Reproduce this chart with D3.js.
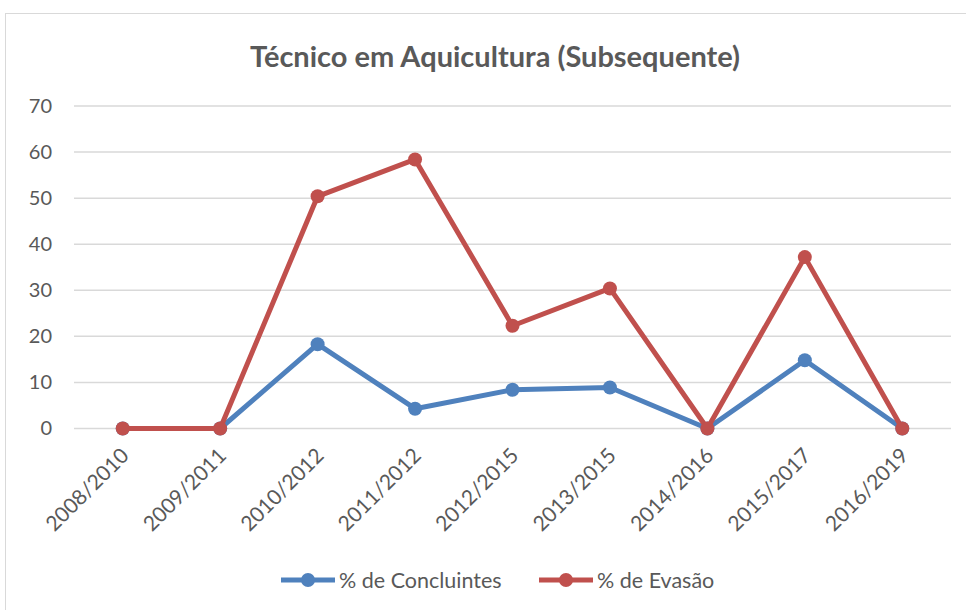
<!DOCTYPE html>
<html>
<head>
<meta charset="utf-8">
<script src="https://cdn.jsdelivr.net/npm/d3@7"></script>
<style>
  body { margin: 0; background: #fff; }
  svg { font-family: Lato, "Open Sans", sans-serif; }
</style>
</head>
<body>
<div id="graphic"></div>
<script>
// chart data
var categories = ["2008/2010", "2009/2011", "2010/2012", "2011/2012", "2012/2015",
                  "2013/2015", "2014/2016", "2015/2017", "2016/2019"];
var concluintes = [0, 0, 18.3, 4.3, 8.4, 8.9, 0, 14.8, 0];
var evasao = [0, 0, 50.4, 58.4, 22.3, 30.4, 0, 37.2, 0];
var seriesNames = ["% de Concluintes", "% de Evasão"];
var yTicks = [0, 10, 20, 30, 40, 50, 60, 70];

var colors = ["#4F81BD", "#C0504D"];
var W = 966, H = 610;
var margin = {left: 74, right: 15, top: 106, bottom: 181};

var svg = d3.select("#graphic").append("svg").attr("width", W).attr("height", H);

// outer chart border
svg.append("rect").attr("x", 5.5).attr("y", 13.5).attr("width", W).attr("height", H)
  .attr("fill", "none").attr("stroke", "#D9D9D9").attr("stroke-width", 1);

svg.append("text").attr("x", 495).attr("y", 67).attr("text-anchor", "middle")
  .attr("font-size", 29).attr("font-weight", "bold").attr("fill", "#595959")
  .text("Técnico em Aquicultura (Subsequente)");

var x = d3.scaleBand().domain(categories).range([margin.left, W - margin.right]);
var y = d3.scaleLinear().domain([0, 70]).range([H - margin.bottom - 0.5, margin.top]);

var grid = svg.append("g");
grid.selectAll("line").data(yTicks).enter().append("line")
  .attr("x1", margin.left).attr("x2", W - margin.right)
  .attr("y1", function(d) { return y(d); }).attr("y2", function(d) { return y(d); })
  .attr("stroke", "#D9D9D9").attr("stroke-width", 1.5);

var yAxis = svg.append("g").attr("transform", "translate(" + (margin.left - 22) + ",0)")
  .call(d3.axisLeft(y).tickValues(yTicks).tickSize(0).tickPadding(0));
yAxis.select(".domain").remove();
yAxis.selectAll("text").attr("font-size", 20).attr("fill", "#595959")
  .attr("font-family", "Lato, 'Open Sans', sans-serif");

var xAxis = svg.append("g").attr("transform", "translate(0," + (y(0) + 18) + ")")
  .call(d3.axisBottom(x).tickSize(0).tickPadding(0));
xAxis.select(".domain").remove();
xAxis.selectAll("text").attr("font-size", 21).attr("fill", "#595959")
  .attr("font-family", "Lato, 'Open Sans', sans-serif")
  .attr("text-anchor", "end").attr("dy", "0.7em")
  .attr("transform", "translate(-3,0) rotate(-45)");

var line = d3.line()
  .x(function(d, i) { return x(categories[i]) + x.bandwidth() / 2; })
  .y(function(d) { return y(d); });

[concluintes, evasao].forEach(function(vals, k) {
  var g = svg.append("g");
  g.append("path").datum(vals).attr("d", line).attr("fill", "none")
    .attr("stroke", colors[k]).attr("stroke-width", 5).attr("stroke-linejoin", "round");
  g.selectAll("circle").data(vals).enter().append("circle")
    .attr("cx", function(d, i) { return x(categories[i]) + x.bandwidth() / 2; })
    .attr("cy", function(d) { return y(d); })
    .attr("r", 7).attr("fill", colors[k]);
});

// legend
var legendX = [281, 539];
seriesNames.forEach(function(name, k) {
  var g = svg.append("g").attr("transform", "translate(" + legendX[k] + ",580)");
  g.append("line").attr("x1", 0).attr("x2", 54).attr("stroke", colors[k]).attr("stroke-width", 5);
  g.append("circle").attr("cx", 27).attr("r", 7).attr("fill", colors[k]);
  g.append("text").attr("x", 58).attr("dy", "0.35em").attr("font-size", 21.5)
    .attr("fill", "#595959").text(name);
});
</script>
</body>
</html>
